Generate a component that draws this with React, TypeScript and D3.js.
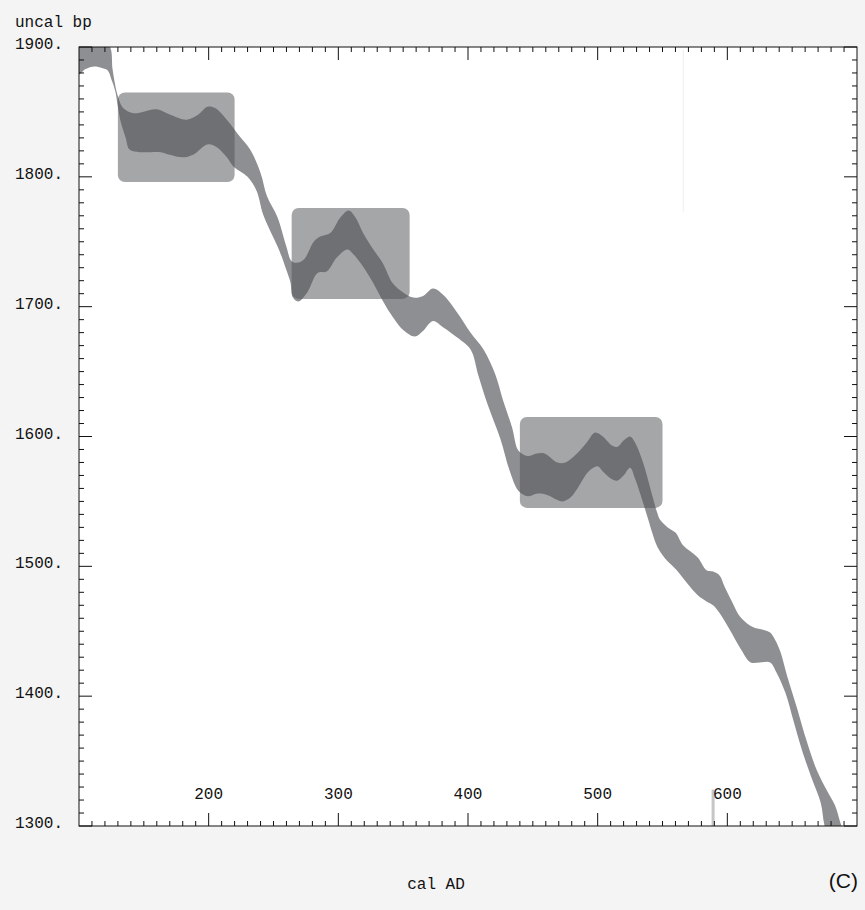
import React from 'react'
import * as d3 from 'd3'

// calibration band, upper edge (cal AD year, uncal bp)
const upperYears = [100, 116, 124, 126, 130, 134, 142, 149, 160, 170, 183, 192, 199, 205, 214, 224, 232, 240, 245, 253, 260, 264, 269, 274, 281, 286, 294, 301, 308, 313, 319, 327, 334, 342, 350, 358, 365, 373, 381, 392, 402, 412, 421, 427, 434, 439, 446, 453, 459, 469, 475, 484, 492, 498, 504, 511, 515, 520, 525, 529, 535, 542, 546, 548, 554, 560, 566, 577, 584, 589, 594, 598, 604, 610, 620, 628, 633, 637, 641, 646, 654, 661, 669, 677, 683, 687, 693]
const upperValues = [1913, 1909, 1900, 1882, 1862, 1853, 1849, 1850, 1852, 1848, 1844, 1848, 1854, 1853, 1844, 1831, 1821, 1803, 1785, 1769, 1746, 1735, 1734, 1737, 1750, 1754, 1757, 1768, 1774, 1769, 1757, 1744, 1734, 1718, 1711, 1707, 1708, 1714, 1709, 1695, 1680, 1667, 1648, 1628, 1607, 1589, 1585, 1587, 1587, 1580, 1580, 1587, 1596, 1603, 1600, 1593, 1592, 1597, 1600, 1595, 1580, 1555, 1541, 1536, 1530, 1526, 1516, 1507, 1497, 1496, 1493, 1484, 1472, 1461, 1453, 1451, 1449, 1443, 1434, 1416, 1390, 1366, 1343, 1327, 1316, 1303, 1282]

// calibration band, lower edge
const lowerYears = [100, 105, 112, 117, 122, 125, 128, 130, 132, 136, 139, 147, 163, 170, 180, 188, 199, 206, 214, 219, 230, 237, 242, 250, 255, 260, 263, 265, 269, 276, 284, 291, 299, 307, 311, 319, 327, 334, 342, 350, 359, 365, 373, 381, 392, 402, 408, 415, 425, 432, 439, 446, 453, 461, 469, 473, 479, 485, 493, 500, 504, 511, 515, 520, 525, 529, 535, 539, 542, 546, 552, 561, 569, 577, 584, 589, 594, 602, 610, 618, 625, 633, 638, 645, 651, 658, 665, 672, 675, 681]
const lowerValues = [1879, 1883, 1885, 1884, 1882, 1875, 1866, 1854, 1843, 1830, 1821, 1819, 1819, 1817, 1815, 1817, 1825, 1823, 1815, 1808, 1800, 1789, 1771, 1753, 1742, 1728, 1719, 1707, 1704, 1711, 1726, 1727, 1738, 1744, 1741, 1731, 1718, 1705, 1692, 1682, 1677, 1681, 1689, 1684, 1676, 1667, 1647, 1625, 1598, 1574, 1558, 1554, 1556, 1555, 1551, 1550, 1553, 1561, 1573, 1577, 1573, 1567, 1566, 1570, 1576, 1567, 1549, 1536, 1526, 1515, 1506, 1497, 1487, 1478, 1473, 1470, 1464, 1451, 1437, 1426, 1426, 1426, 1418, 1402, 1381, 1357, 1337, 1318, 1300, 1280]

// highlighted ranges (rounded boxes)
const boxYearFrom = [130, 264, 440]
const boxYearTo = [220, 355, 550]
const boxValueFrom = [1796, 1706, 1545]
const boxValueTo = [1865, 1776, 1615]

const majorX = [200, 300, 400, 500, 600]
const majorY = [1300, 1400, 1500, 1600, 1700, 1800, 1900]

const markYear = 589
const markValue = 1328
const faintYear = 566
const faintFrom = 1773
const faintTo = 1898

export default function App() {
  const width = 865
  const height = 910
  const left = 79, right = 857, top = 47, bottom = 826

  const x = d3.scaleLinear().domain([100, 700]).range([left, right])
  const y = d3.scaleLinear().domain([1300, 1900]).range([bottom, top])

  const upper = upperYears.map((d, i) => [x(d), y(upperValues[i])] as [number, number])
  const lower = lowerYears.map((d, i) => [x(d), y(lowerValues[i])] as [number, number])
  const poly = upper.concat(lower.slice().reverse())
  const bandPath = d3.line().curve(d3.curveCatmullRomClosed.alpha(0.5))(poly) || ''

  const minorX = d3.range(110, 700, 10).filter(v => v % 100 !== 0)
  const minorY = d3.range(1310, 1900, 10).filter(v => v % 100 !== 0)

  const mono = '"Liberation Mono", "Courier New", monospace'
  const bigTick = 13
  const smallTick = 5

  return (
    <div>
      <style>{'body{margin:0}'}</style>
      <svg width={width} height={height} style={{ display: 'block' }}>
        <defs>
          <clipPath id="plot-clip">
            <rect x={left} y={top} width={right - left} height={bottom - top} />
          </clipPath>
        </defs>
        <rect width={width} height={height} fill="#f4f4f4" />
        <rect x={left} y={top} width={right - left} height={bottom - top} fill="#fff" />

        <g clipPath="url(#plot-clip)">
          <path d={bandPath} fill="#8e8f93" />
          {boxYearFrom.map((d, i) => (
            <rect key={i}
              x={x(d)} y={y(boxValueTo[i])}
              width={x(boxYearTo[i]) - x(d)}
              height={y(boxValueFrom[i]) - y(boxValueTo[i])}
              rx={7} fill="rgb(83,84,86)" fillOpacity={0.52} />
          ))}
          <line x1={x(faintYear)} x2={x(faintYear)} y1={y(faintTo)} y2={y(faintFrom)} stroke="#efefef" strokeWidth={1} />
          <line x1={x(markYear)} x2={x(markYear)} y1={y(markValue)} y2={bottom} stroke="#c6c6c6" strokeWidth={3} />
        </g>

        <g stroke="#111" strokeWidth={1} fill="none">
          <rect x={left} y={top} width={right - left} height={bottom - top} />
          {majorX.map(v => (
            <g key={'mx' + v}>
              <line x1={x(v)} x2={x(v)} y1={bottom} y2={bottom - bigTick} />
              <line x1={x(v)} x2={x(v)} y1={top} y2={top + bigTick} />
            </g>
          ))}
          {minorX.map(v => (
            <g key={'nx' + v}>
              <line x1={x(v)} x2={x(v)} y1={bottom} y2={bottom - smallTick} />
              <line x1={x(v)} x2={x(v)} y1={top} y2={top + smallTick} />
            </g>
          ))}
          {majorY.map(v => (
            <g key={'my' + v}>
              <line x1={left} x2={left + bigTick} y1={y(v)} y2={y(v)} />
              <line x1={right} x2={right - bigTick} y1={y(v)} y2={y(v)} />
            </g>
          ))}
          {minorY.map(v => (
            <g key={'ny' + v}>
              <line x1={left} x2={left + smallTick} y1={y(v)} y2={y(v)} />
              <line x1={right} x2={right - smallTick} y1={y(v)} y2={y(v)} />
            </g>
          ))}
        </g>

        <g fontFamily={mono} fontSize={16} fill="#111">
          {majorY.map(v => (
            <text key={'ly' + v} x={15} y={y(v) + 2}>{v + '.'}</text>
          ))}
          {majorX.map(v => (
            <text key={'lx' + v} x={x(v)} y={799} textAnchor="middle">{v}</text>
          ))}
          <text x={15} y={27}>uncal bp</text>
          <text x={436} y={889} textAnchor="middle">cal AD</text>
        </g>
        <text x={858} y={888} textAnchor="end" fontFamily='"Liberation Sans", Arial, sans-serif' fontSize={21} fill="#111">(C)</text>
      </svg>
    </div>
  )
}
